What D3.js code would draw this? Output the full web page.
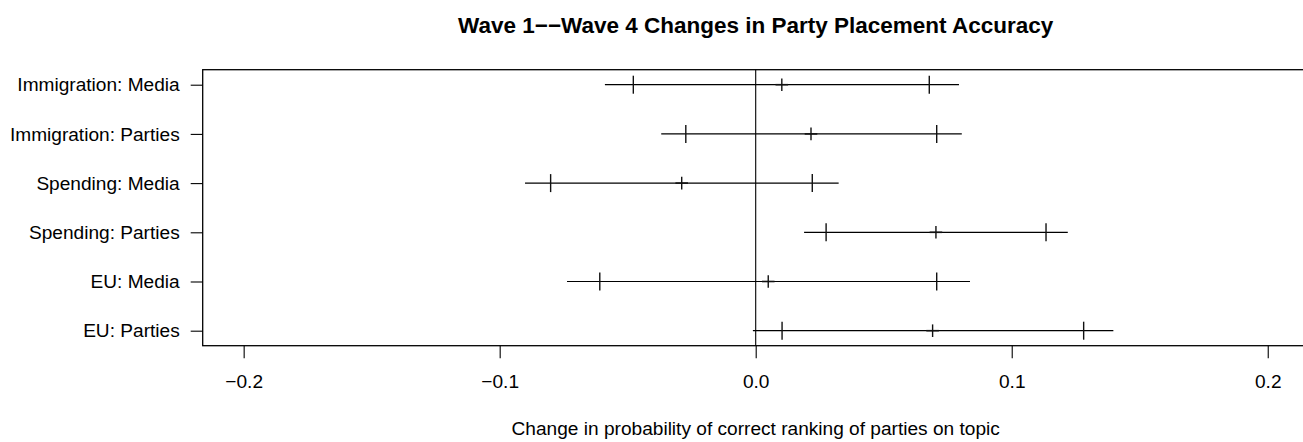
<!DOCTYPE html>
<html>
<head>
<meta charset="utf-8">
<script src="https://cdn.jsdelivr.net/npm/d3@7"></script>
<style>
  html, body { margin: 0; padding: 0; background: #fff; }
  svg { display: block; }
  text { font-family: "Liberation Sans", Arial, Helvetica, sans-serif; fill: #000; }
</style>
</head>
<body>
<svg id="chart" width="1303" height="442"></svg>
<script>
// Rows, listed top to bottom
const categories = [
  "Immigration: Media",
  "Immigration: Parties",
  "Spending: Media",
  "Spending: Parties",
  "EU: Media",
  "EU: Parties"
];
// Point estimates and interval bounds
const estimate = [0.0102, 0.0216, -0.0289, 0.0704, 0.0049, 0.0691];
const lower90  = [-0.0478, -0.0273, -0.0801, 0.0275, -0.0609, 0.0103];
const upper90  = [0.0678, 0.0707, 0.0221, 0.1134, 0.0707, 0.1281];
const lower95  = [-0.0589, -0.0369, -0.0901, 0.0189, -0.0737, -0.0011];
const upper95  = [0.0794, 0.0805, 0.0324, 0.1219, 0.0837, 0.1397];
const xTicks   = [-0.2, -0.1, 0.0, 0.1, 0.2];

const titleText = "Wave 1\u2212\u2212Wave 4 Changes in Party Placement Accuracy";
const xLabel = "Change in probability of correct ranking of parties on topic";

const svg = d3.select("#chart");
const box = { left: 202.7, right: 1308.7, top: 69.7, bottom: 345.7 };
const n = categories.length;

const x = d3.scaleLinear().domain([-0.216, 0.216]).range([box.left, box.right]);
// Row k (1 = bottom) placed on a numeric y scale
const y = d3.scaleLinear().domain([0.695, n + 0.305]).range([box.bottom, box.top]);
const rowY = i => y(n - i);

const fs = 19.1;
const titleFs = 22.5;

// Plot frame
svg.append("rect")
  .attr("x", box.left).attr("y", box.top)
  .attr("width", box.right - box.left).attr("height", box.bottom - box.top)
  .attr("fill", "none").attr("stroke", "#000").attr("stroke-width", 1.3);

// Reference line at zero
svg.append("line")
  .attr("x1", x(0)).attr("x2", x(0))
  .attr("y1", box.top).attr("y2", box.bottom)
  .attr("stroke", "#000").attr("stroke-width", 1.1);

// X axis
const xAxis = d3.axisBottom(x)
  .tickValues(xTicks)
  .tickFormat(d3.format(".1f"))
  .tickSize(12.5)
  .tickPadding(16.5);
const gx = svg.append("g")
  .attr("transform", `translate(0,${box.bottom})`)
  .call(xAxis);
gx.select(".domain").remove();
gx.selectAll(".tick line").attr("stroke", "#000").attr("stroke-width", 1.1);
gx.selectAll(".tick text")
  .style("font-size", fs + "px")
  .style("font-family", "'Liberation Sans', Arial, sans-serif")
  .attr("fill", "#000");

// Y axis with category labels
const yAxis = d3.axisLeft(y)
  .tickValues(d3.range(1, n + 1))
  .tickFormat(k => categories[n - k])
  .tickSize(12)
  .tickPadding(11);
const gy = svg.append("g")
  .attr("transform", `translate(${box.left},0)`)
  .call(yAxis);
gy.select(".domain").remove();
gy.selectAll(".tick line").attr("stroke", "#000").attr("stroke-width", 1.1);
gy.selectAll(".tick text")
  .style("font-size", fs + "px")
  .style("font-family", "'Liberation Sans', Arial, sans-serif")
  .attr("fill", "#000");

// Interval rows
const rows = svg.append("g").selectAll("g")
  .data(categories.map((c, i) => ({
    c, i, est: estimate[i], l90: lower90[i], u90: upper90[i], l95: lower95[i], u95: upper95[i]
  })))
  .join("g");

rows.append("line")
  .attr("x1", d => x(d.l95)).attr("x2", d => x(d.u95))
  .attr("y1", d => rowY(d.i)).attr("y2", d => rowY(d.i))
  .attr("stroke", "#000").attr("stroke-width", 1.2);

const tallHalf = 9;
["l90", "u90"].forEach(k => {
  rows.append("line")
    .attr("x1", d => x(d[k])).attr("x2", d => x(d[k]))
    .attr("y1", d => rowY(d.i) - tallHalf).attr("y2", d => rowY(d.i) + tallHalf)
    .attr("stroke", "#111").attr("stroke-width", 1.4);
});

// Point estimate marker (plus)
const plusHalf = 6.3;
rows.append("line")
  .attr("x1", d => x(d.est)).attr("x2", d => x(d.est))
  .attr("y1", d => rowY(d.i) - plusHalf).attr("y2", d => rowY(d.i) + plusHalf)
  .attr("stroke", "#111").attr("stroke-width", 1.4);
rows.append("line")
  .attr("x1", d => x(d.est) - plusHalf).attr("x2", d => x(d.est) + plusHalf)
  .attr("y1", d => rowY(d.i)).attr("y2", d => rowY(d.i))
  .attr("stroke", "#111").attr("stroke-width", 1.6);

// Title
svg.append("text")
  .attr("x", (box.left + box.right) / 2).attr("y", 33)
  .attr("text-anchor", "middle")
  .style("font-size", titleFs + "px").style("font-weight", "bold")
  .text(titleText);

// X axis title
svg.append("text")
  .attr("x", (box.left + box.right) / 2).attr("y", 434.5)
  .attr("text-anchor", "middle")
  .style("font-size", fs + "px")
  .text(xLabel);
</script>
</body>
</html>
